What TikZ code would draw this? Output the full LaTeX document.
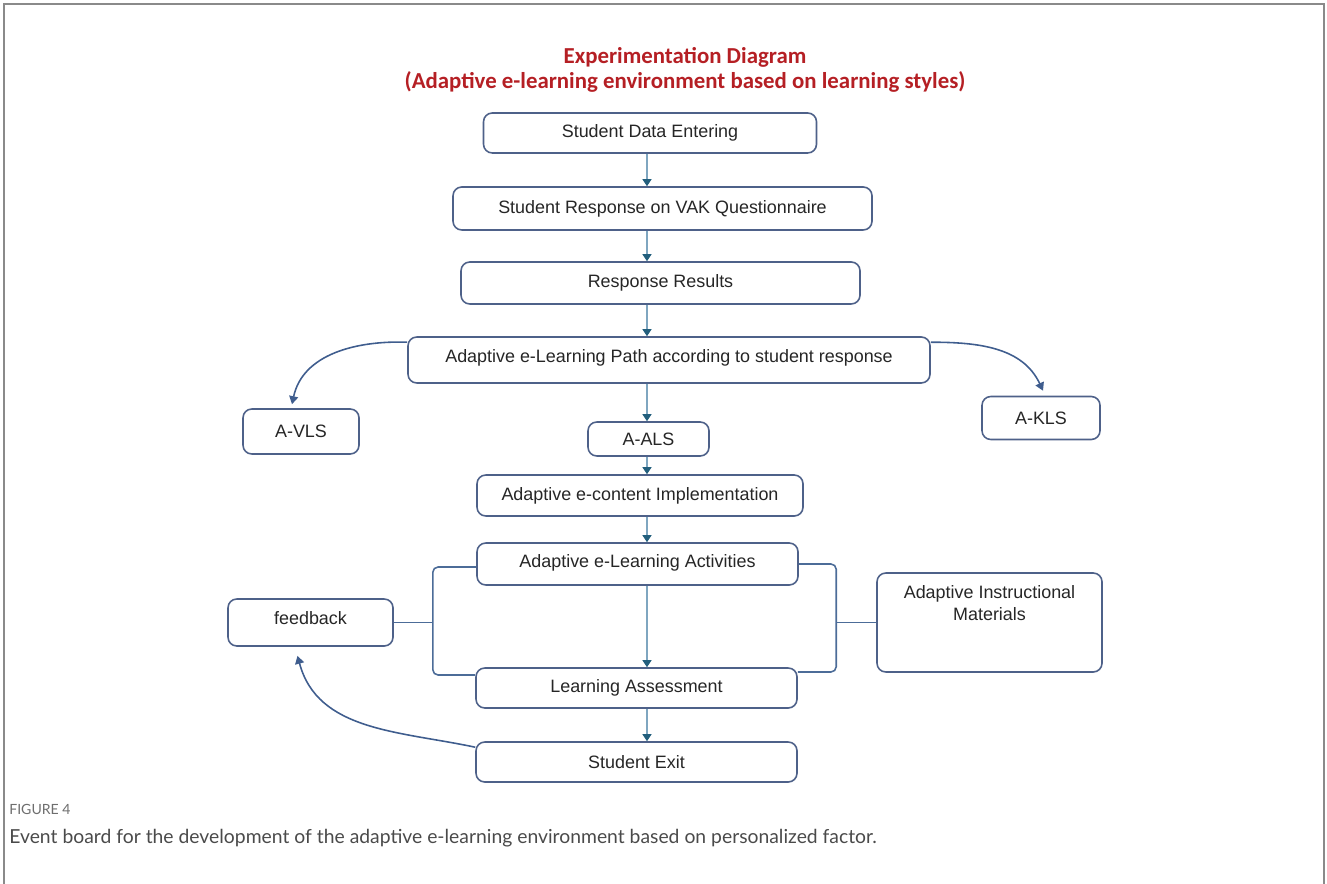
\documentclass[tikz,border=0pt]{standalone}
\usepackage{fontspec}
\setmainfont{Liberation Sans}
\newfontfamily\titlefont{Carlito}
\newfontfamily\capfont{Lato}
\usetikzlibrary{arrows.meta, calc, positioning}
\definecolor{boxblue}{HTML}{4E6189}
\definecolor{linkblue}{HTML}{7FA6C0}
\definecolor{tipteal}{HTML}{235F7D}
\definecolor{curveblue}{HTML}{3F5D8E}
\definecolor{titlered}{HTML}{B51F24}
\definecolor{framegray}{HTML}{8A8A8A}
\definecolor{capgray}{HTML}{6E6E6E}
\definecolor{captext}{HTML}{4A4A4A}

\begin{document}
\begin{tikzpicture}[
    every node/.style={text=black!85},
    stepbox/.style={draw=boxblue, line width=0.9pt, rounded corners=5pt,
                    fill=white, inner sep=0pt,
                    font=\fontsize{10.2}{12}\selectfont},
    flowarrow/.style={-{Triangle[length=1.4mm, width=1.8mm, color=tipteal]},
                      draw=linkblue, line width=0.6pt},
    bendarrow/.style={-{Triangle[length=1.6mm, width=1.8mm]},
                      draw=curveblue, line width=0.9pt},
    bracket/.style={draw=curveblue!80!linkblue, line width=0.9pt,
                    rounded corners=3pt},
  ]

  % Page and frame
  \useasboundingbox (0,0) rectangle (26.54,-17.68);
  \draw[framegray, line width=1.2pt]
    (0.08,-17.68) -- (0.08,-0.08) -- (26.48,-0.08) -- (26.48,-17.68);

  % Title
  \node[align=center, text=titlered, font=\titlefont\bfseries\fontsize{13}{14.2}\selectfont]
    (title) at (13.70,-1.39)
    {Experimentation Diagram\\(Adaptive e-learning environment based on learning styles)};

  % Main column
  \node[stepbox, minimum width=6.66cm, minimum height=0.80cm] (datain) at (13.00,-2.66) {Student Data Entering};
  \node[stepbox, minimum width=8.38cm, minimum height=0.86cm] (vakresp) at (13.25,-4.17) {Student Response on VAK Questionnaire};
  \node[stepbox, minimum width=7.98cm, minimum height=0.84cm] (results) at (13.21,-5.66) {Response Results};
  \node[stepbox, minimum width=10.44cm, minimum height=0.92cm] (path) at (13.38,-7.20)
    {\raisebox{1.5mm}{Adaptive e-Learning Path according to student response}};
  \node[stepbox, minimum width=2.32cm, minimum height=0.90cm] (avls) at (6.02,-8.63) {A-VLS};
  \node[stepbox, minimum width=2.42cm, minimum height=0.68cm] (aals) at (12.97,-8.78) {A-ALS};
  \node[stepbox, minimum width=2.36cm, minimum height=0.86cm] (akls) at (20.82,-8.36) {A-KLS};
  \node[stepbox, minimum width=6.52cm, minimum height=0.82cm] (econtent) at (12.80,-9.91) {Adaptive e-content Implementation};
  \node[stepbox, minimum width=6.42cm, minimum height=0.84cm] (activities) at (12.75,-11.28)
    {\raisebox{1mm}{Adaptive e-Learning Activities}};
  \node[stepbox, minimum width=6.42cm, minimum height=0.80cm] (assess) at (12.73,-13.76) {Learning Assessment};
  \node[stepbox, minimum width=6.42cm, minimum height=0.80cm] (exit) at (12.73,-15.24) {Student Exit};

  % Side boxes
  \node[stepbox, minimum width=3.30cm, minimum height=0.94cm] (feedback) at (6.21,-12.45)
    {\raisebox{1.6mm}{feedback}};
  \node[stepbox, minimum width=4.50cm, minimum height=1.98cm, align=center,
        text depth=0.78cm] (materials) at (19.79,-12.45)
    {Adaptive Instructional\\Materials};

  % Straight links down the column
  \coordinate (col) at (12.94,0);
  \draw[flowarrow] (datain.south -| col) -- (vakresp.north -| col);
  \draw[flowarrow] (vakresp.south -| col) -- (results.north -| col);
  \draw[flowarrow] (results.south -| col) -- (path.north -| col);
  \draw[flowarrow] (path.south -| col) -- (aals.north -| col);
  \draw[flowarrow] (aals.south -| col) -- (econtent.north -| col);
  \draw[flowarrow] (econtent.south -| col) -- (activities.north -| col);
  \draw[flowarrow] (activities.south -| col) -- (assess.north -| col);
  \draw[flowarrow] (assess.south -| col) -- (exit.north -| col);

  % Branches to the style boxes
  \draw[bendarrow] ([yshift=-1.2mm]path.north west)
    to[out=178, in=78] ([xshift=-1.8mm, yshift=0.8mm]avls.north);
  \draw[bendarrow] ([yshift=-1.2mm]path.north east)
    to[out=0, in=115] ([xshift=0.4mm, yshift=1.0mm]akls.north);

  % Loop back to feedback
  \draw[bendarrow] ([yshift=-1.2mm]exit.north west)
    to[out=168, in=-75] ([xshift=-2.6mm, yshift=-1.8mm]feedback.south);

  % Brackets
  \coordinate (lbrk) at ($(feedback.east)+(0.78,0)$);
  \coordinate (rbrk) at ($(materials.west)+(-0.80,0)$);
  \draw[bracket] ([yshift=-0.06cm]activities.west) -| (lbrk) |- ([yshift=0.26cm]assess.west);
  \draw[bracket] (feedback.east) -- (lbrk);
  \draw[bracket] (activities.east) -| (rbrk) |- ([yshift=0.32cm]assess.east);
  \draw[bracket] (materials.west) -- (rbrk);

  % Caption
  \node[anchor=west, inner sep=0pt, text=capgray, font=\capfont\fontsize{8}{9}\selectfont] (fignum) at (0.18,-16.18) {FIGURE 4};
  \node[anchor=west, inner sep=0pt, text=captext, font=\capfont\fontsize{11}{13}\selectfont] (caption) at (0.18,-16.76)
    {Event board for the development of the adaptive e-learning environment based on personalized factor.};

\end{tikzpicture}
\end{document}
